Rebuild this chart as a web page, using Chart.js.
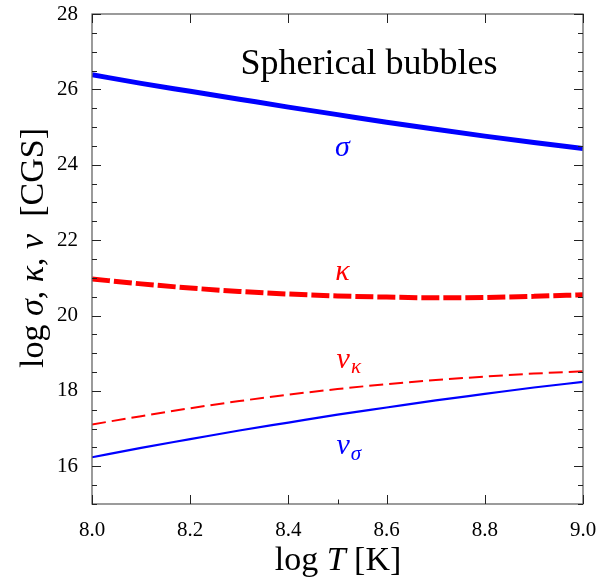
<!DOCTYPE html>
<html>
<head>
<meta charset="utf-8">
<script src="https://cdn.jsdelivr.net/npm/chart.js@4/dist/chart.umd.min.js"></script>
<style>
html,body{margin:0;padding:0;background:#fff;}
canvas{display:block;}
</style>
</head>
<body>
<canvas id="c" width="598" height="578"></canvas>
<script>
// ---- data ----
const logT     = [8.0, 8.1, 8.2, 8.3, 8.4, 8.5, 8.6, 8.7, 8.8, 8.9, 9.0];
const sigma    = [26.39, 26.16, 25.95, 25.74, 25.53, 25.33, 25.13, 24.94, 24.76, 24.59, 24.43];
const kappa    = [20.97, 20.84, 20.73, 20.64, 20.57, 20.52, 20.49, 20.47, 20.48, 20.51, 20.55];
const nuKappa  = [17.11, 17.33, 17.54, 17.73, 17.90, 18.05, 18.18, 18.29, 18.38, 18.46, 18.52];
const nuSigma  = [16.24, 16.49, 16.72, 16.95, 17.16, 17.37, 17.56, 17.75, 17.92, 18.09, 18.24];

const xRange = [8.0, 9.0];
const yRange = [15, 28];
const xMinorExtra = [8.5];
const plotTitle = "Spherical bubbles";
const xTitleParts = [["log ", false], ["T", true], [" [K]", false]];
const yTitleParts = [["log ", false], ["σ", true], [", ", false], ["κ", true], [", ", false], ["ν", true], ["  [CGS]", false]];
// curve labels: [main, subscript, x, y, color]
const curveLabels = [
  ["σ", "", 8.51, 24.43, "#0000ff"],
  ["κ", "", 8.51, 21.15, "#ff0000"],
  ["ν", "κ", 8.522, 18.83, "#ff0000"],
  ["ν", "σ", 8.522, 16.53, "#0000ff"]
];
const titlePos = [8.564, 26.65];

// pick an installed serif family
function pickSerif(){
  const cands = ['Liberation Serif', 'DejaVu Serif', 'Times New Roman', 'Times', 'Noto Serif', 'FreeSerif', 'Tinos'];
  const c = document.createElement('canvas').getContext('2d');
  const probe = 'Spherical bubbles 0123456789';
  c.font = '72px monospace'; const wm = c.measureText(probe).width;
  c.font = '72px sans-serif'; const ws = c.measureText(probe).width;
  for (const f of cands) {
    c.font = '72px "' + f + '", monospace'; const a = c.measureText(probe).width;
    c.font = '72px "' + f + '", sans-serif'; const b = c.measureText(probe).width;
    if (Math.abs(a - wm) > 0.5 && Math.abs(b - ws) > 0.5) return '"' + f + '"';
  }
  return 'serif';
}
const SERIF = pickSerif() + ', serif';
const TICK_SIZE = 21;

function pts(ys){ return logT.map((x,i)=>({x:x, y:ys[i]})); }

const framePlugin = {
  id: 'frame',
  afterDatasetsDraw(chart){
    const ctx = chart.ctx, a = chart.chartArea;
    const xs = chart.scales.x, ys = chart.scales.y;
    ctx.save();
    ctx.strokeStyle = '#666';
    ctx.lineWidth = 1.3;
    ctx.strokeRect(a.left, a.top, a.right - a.left, a.bottom - a.top);
    ctx.strokeStyle = '#222';
    ctx.lineWidth = 1;
    // x ticks (inward, bottom and top)
    xs.ticks.forEach(t => {
      const p = Math.round(xs.getPixelForValue(t.value)) + 0.5;
      ctx.beginPath();
      ctx.moveTo(p, a.bottom); ctx.lineTo(p, a.bottom - 9);
      ctx.moveTo(p, a.top); ctx.lineTo(p, a.top + 9);
      ctx.stroke();
    });
    xMinorExtra.forEach(v => {
      const p = Math.round(xs.getPixelForValue(v)) + 0.5;
      ctx.beginPath();
      ctx.moveTo(p, a.bottom); ctx.lineTo(p, a.bottom - 4.5);
      ctx.stroke();
    });
    // y ticks (inward, left and right)
    ys.ticks.forEach(t => {
      const p = Math.round(ys.getPixelForValue(t.value)) + 0.5;
      const major = Math.abs(t.value % 2) < 1e-6;
      const len = major ? 9 : 5;
      ctx.beginPath();
      ctx.moveTo(a.left, p); ctx.lineTo(a.left + len, p);
      ctx.moveTo(a.right, p); ctx.lineTo(a.right - len, p);
      ctx.stroke();
    });
    // annotations
    ctx.textAlign = 'center';
    ctx.textBaseline = 'middle';
    ctx.fillStyle = '#000';
    ctx.font = '36px ' + SERIF;
    ctx.fillText(plotTitle, xs.getPixelForValue(titlePos[0]), ys.getPixelForValue(titlePos[1]));
    curveLabels.forEach(([m, sub, x, y, col]) => {
      const px = xs.getPixelForValue(x), py = ys.getPixelForValue(y);
      ctx.fillStyle = col;
      ctx.font = 'italic 30px ' + SERIF;
      if (!sub) {
        ctx.textAlign = 'center';
        ctx.fillText(m, px, py);
      } else {
        ctx.textAlign = 'left';
        const w1 = ctx.measureText(m).width;
        ctx.font = 'italic 21px ' + SERIF;
        const w2 = ctx.measureText(sub).width;
        const x0 = px - (w1 + w2) / 2;
        ctx.font = 'italic 30px ' + SERIF;
        ctx.fillText(m, x0, py);
        ctx.font = 'italic 21px ' + SERIF;
        ctx.fillText(sub, x0 + w1 + 1, py + 8);
      }
    });
    function drawParts(parts, size){
      let total = 0;
      parts.forEach(([s, it]) => { ctx.font = (it ? 'italic ' : '') + size + 'px ' + SERIF; total += ctx.measureText(s).width; });
      let x = -total / 2;
      ctx.textAlign = 'left';
      parts.forEach(([s, it]) => { ctx.font = (it ? 'italic ' : '') + size + 'px ' + SERIF; ctx.fillText(s, x, 0); x += ctx.measureText(s).width; });
    }
    ctx.fillStyle = '#000';
    ctx.textBaseline = 'alphabetic';
    ctx.save();
    ctx.translate(338, 570);
    drawParts(xTitleParts, 34);
    ctx.restore();
    ctx.save();
    ctx.translate(43, 248);
    ctx.rotate(-Math.PI / 2);
    drawParts(yTitleParts, 34);
    ctx.restore();
    ctx.restore();
  }
};

const chart = new Chart(document.getElementById('c'), {
  type: 'line',
  data: {
    datasets: [
      { data: pts(sigma),   borderColor: '#0000ff', borderWidth: 5,   borderDash: [],      cubicInterpolationMode: 'monotone' },
      { data: pts(kappa),   borderColor: '#ff0000', borderWidth: 5,   borderDash: [18, 4], cubicInterpolationMode: 'monotone' },
      { data: pts(nuKappa), borderColor: '#ff0000', borderWidth: 2,   borderDash: [14, 6], cubicInterpolationMode: 'monotone' },
      { data: pts(nuSigma), borderColor: '#0000ff', borderWidth: 2.2, borderDash: [],      cubicInterpolationMode: 'monotone' }
    ]
  },
  options: {
    responsive: false,
    animation: false,
    events: [],
    layout: { padding: { top: 14, right: 15, left: 0, bottom: 0 } },
    elements: { point: { radius: 0 } },
    plugins: { legend: { display: false }, tooltip: { enabled: false }, title: { display: false } },
    scales: {
      x: {
        type: 'linear', min: xRange[0], max: xRange[1],
        grid: { display: false, drawTicks: false },
        border: { display: false },
        ticks: { stepSize: 0.2, autoSkip: false, maxRotation: 0, padding: 14, color: '#000',
                 font: { family: SERIF, size: TICK_SIZE },
                 callback: v => Number(v).toFixed(1) },
        afterFit: s => { s.height = 74; s.paddingLeft = 0; s.paddingRight = 0; }
      },
      y: {
        type: 'linear', min: yRange[0], max: yRange[1],
        grid: { display: false, drawTicks: false },
        border: { display: false },
        ticks: { stepSize: 0.5, autoSkip: false, padding: 14, color: '#000',
                 font: { family: SERIF, size: TICK_SIZE },
                 callback: v => (Math.abs(v % 2) < 1e-6 && v > yRange[0] ? String(v) : '') },
        afterFit: s => { s.width = 92; s.paddingTop = 0; s.paddingBottom = 0; }
      }
    }
  },
  plugins: [framePlugin]
});
if (document.fonts && document.fonts.ready) document.fonts.ready.then(() => chart.update());
</script>
</body>
</html>
